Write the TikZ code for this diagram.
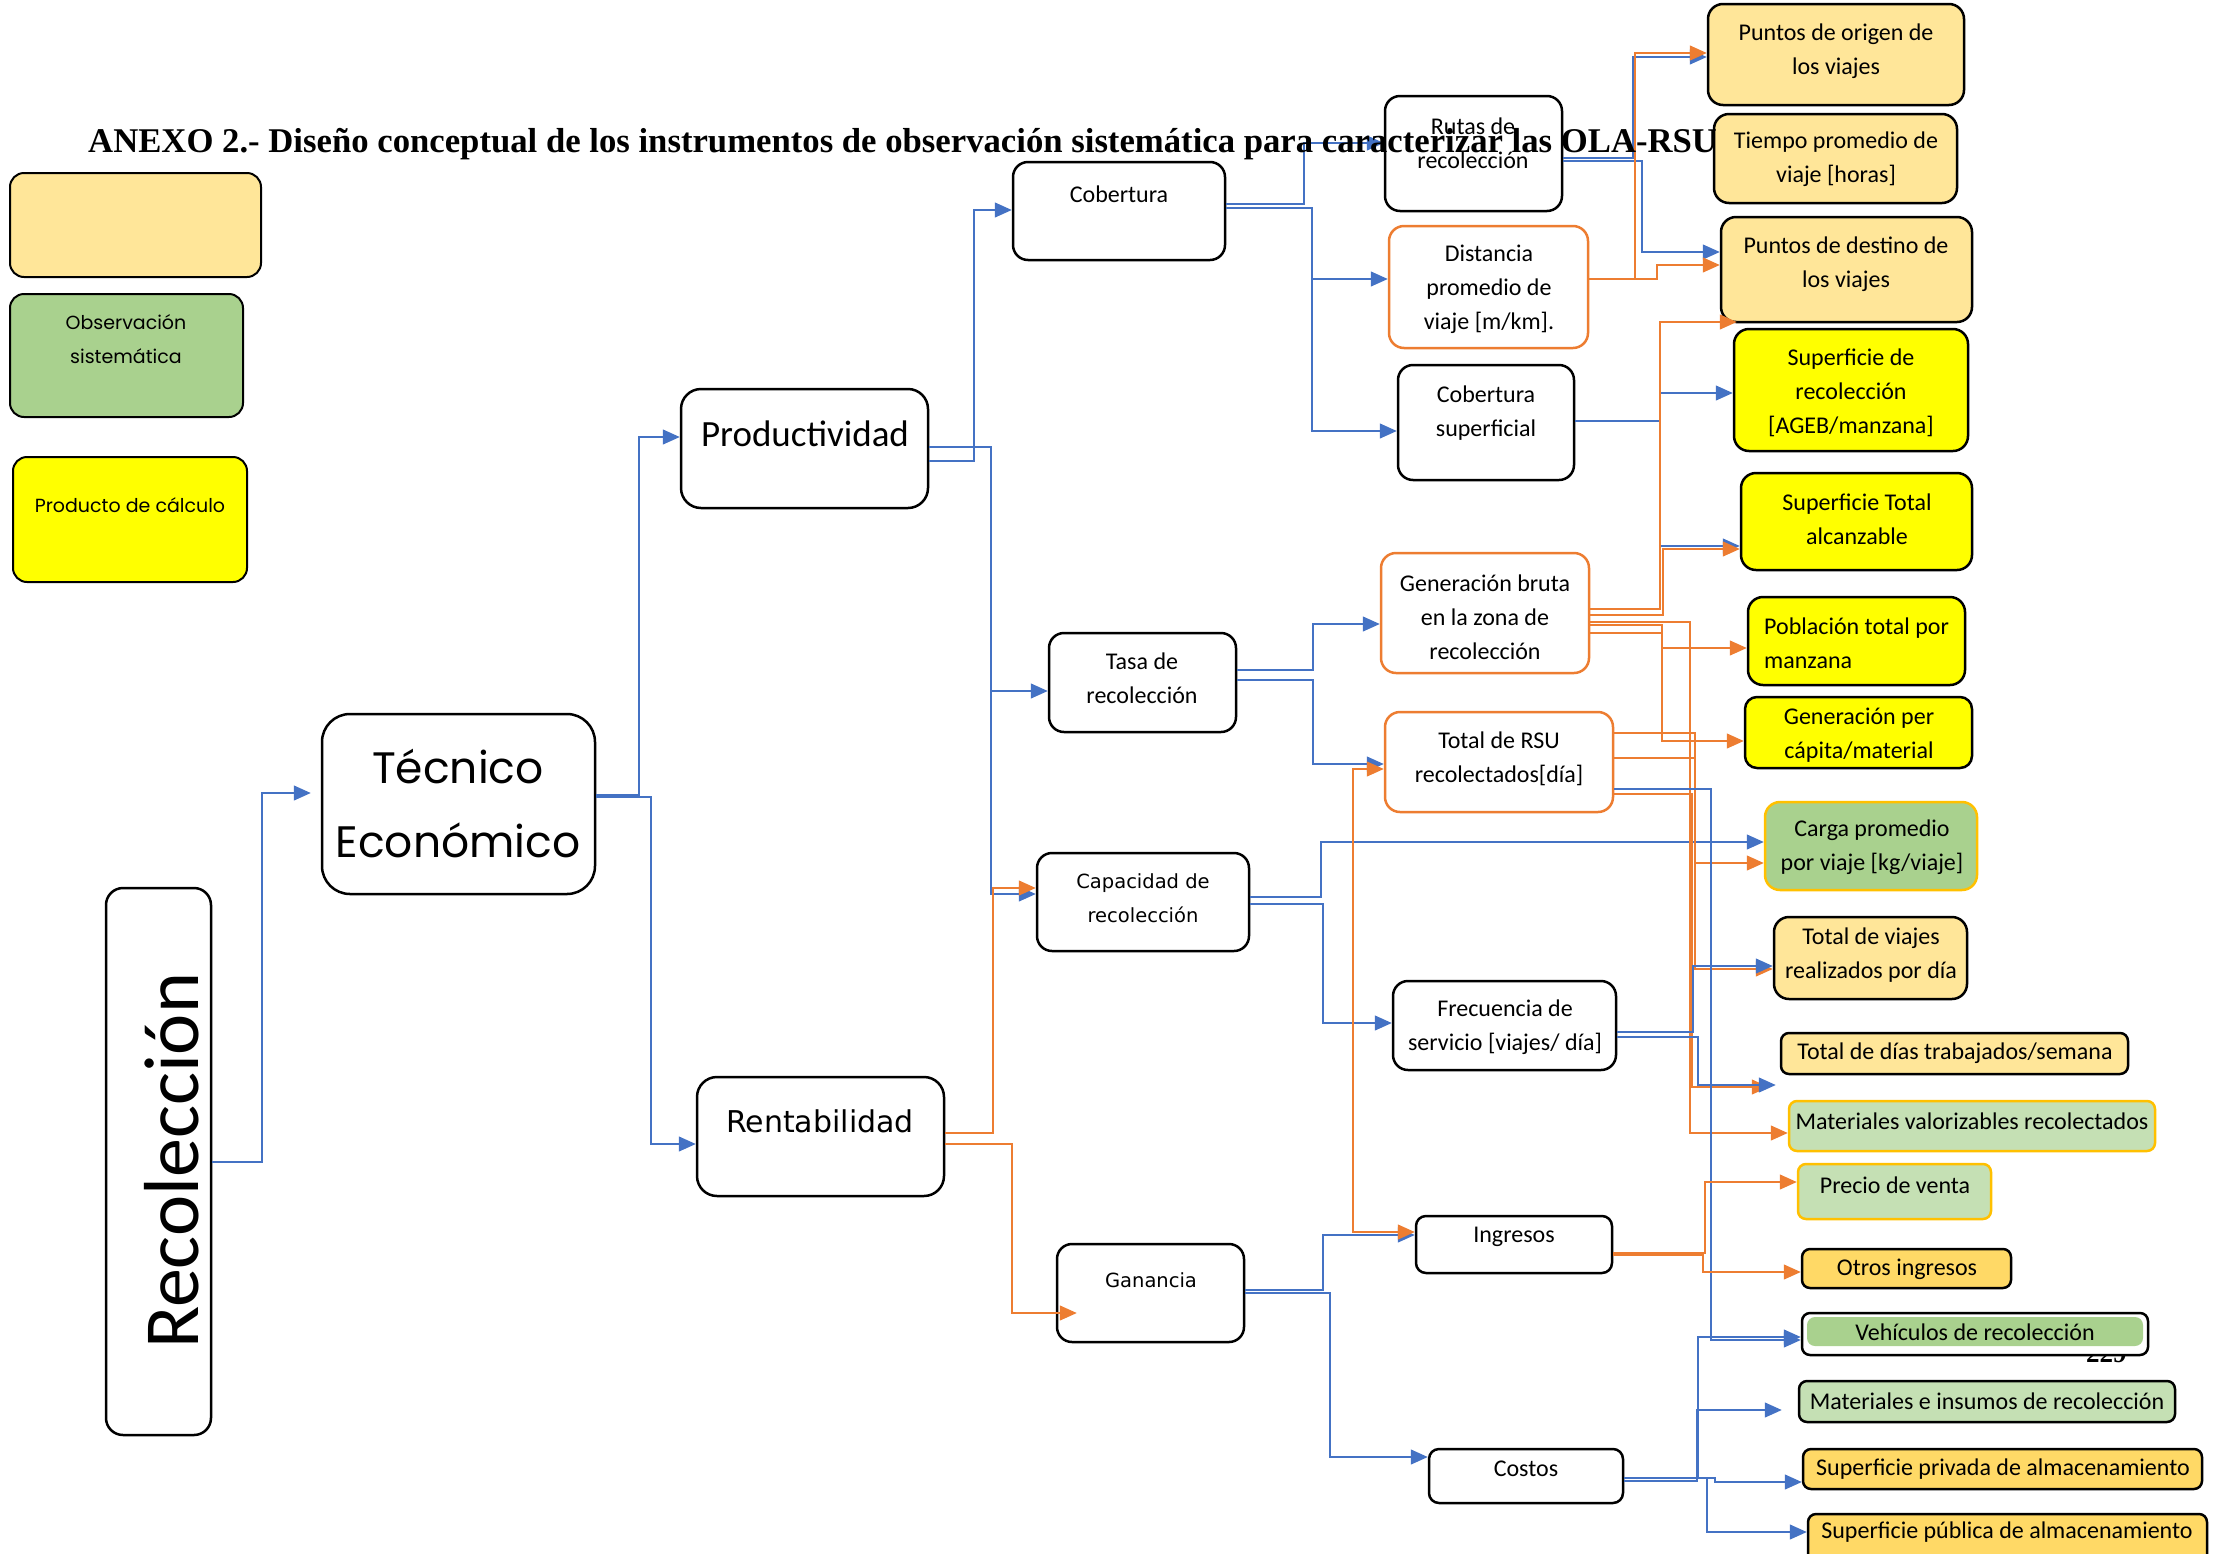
\documentclass[tikz,border=0pt]{standalone}
\usepackage{fontspec}
\setmainfont{Carlito}
\newfontfamily\poppins{Poppins}
\newfontfamily\dejavu{DejaVu Sans}
\newfontfamily\titulo{Liberation Serif}
\usetikzlibrary{arrows.meta}

\definecolor{crema}{HTML}{FFE699}
\definecolor{verdeobs}{HTML}{A9D18E}
\definecolor{verdeclaro}{HTML}{C5E0B4}
\definecolor{amarillo}{HTML}{FFFF00}
\definecolor{dorado}{HTML}{FFD966}
\definecolor{bordeoro}{HTML}{FFC000}
\definecolor{naranjaln}{HTML}{ED7D31}
\definecolor{azulln}{HTML}{4472C4}

\begin{document}
\begin{tikzpicture}[x=1pt, y=-1pt,
        >={Triangle[length=17pt, width=15pt]},
        caja/.style={draw=black, line width=2.5pt, rounded corners=15pt, fill=white, inner sep=0pt},
        chica/.style={caja, rounded corners=8pt},
        txt/.style={font=\fontsize{24}{34}\selectfont, align=center, inner sep=0pt},
        azul/.style={draw=azulln, line width=1.3pt, ->},
        naranja/.style={draw=naranjaln, line width=1.3pt, ->}]

        \useasboundingbox (0,0) rectangle (2225,1553);

        % boxes
        \node [caja, line width=2pt, rounded corners=14pt, fill=crema, minimum width=251pt, minimum height=104pt] (legA) at (135.5,225) {};
        \node [caja, line width=2pt, rounded corners=14pt, fill=verdeobs, minimum width=233pt, minimum height=123pt] (legB) at (126.5,355.5) {};
        \node [caja, line width=2pt, rounded corners=14pt, fill=amarillo, minimum width=234pt, minimum height=125pt] (legC) at (130,519.5) {};

        \node [caja, rounded corners=17pt, minimum width=105pt, minimum height=547pt] (reco) at (158.5,1161.5) {};
        \node [caja, rounded corners=28pt, minimum width=273pt, minimum height=180pt] (tec) at (458.5,804) {};
        \node [caja, rounded corners=20pt, minimum width=247pt, minimum height=119pt] (prod) at (804.5,448.5) {};
        \node [caja, rounded corners=20pt, minimum width=247pt, minimum height=119pt] (rent) at (820.5,1136.5) {};

        \node [caja, minimum width=212pt, minimum height=98pt] (cob) at (1119,211) {};
        \node [caja, minimum width=187pt, minimum height=99pt] (tasa) at (1142.5,682.5) {};
        \node [caja, minimum width=212pt, minimum height=98pt] (cap) at (1143,902) {};
        \node [caja, minimum width=187pt, minimum height=98pt] (gan) at (1150.5,1293) {};

        \node [caja, minimum width=177pt, minimum height=115pt] (rutas) at (1473.5,153.5) {};
        \node [caja, draw=naranjaln, minimum width=199pt, minimum height=122pt] (dist) at (1488.5,287) {};
        \node [caja, minimum width=176pt, minimum height=115pt] (cobsup) at (1486,422.5) {};
        \node [caja, draw=naranjaln, minimum width=208pt, minimum height=120pt] (genb) at (1485,613) {};
        \node [caja, draw=naranjaln, minimum width=228pt, minimum height=100pt] (trsu) at (1499,762) {};
        \node [caja, minimum width=223pt, minimum height=89pt] (frec) at (1504.5,1025.5) {};
        \node [chica, rounded corners=10pt, minimum width=196pt, minimum height=57pt] (ingr) at (1514,1244.5) {};
        \node [chica, rounded corners=10pt, minimum width=194pt, minimum height=54pt] (cost) at (1526,1476) {};

        \node [caja, fill=crema, minimum width=256pt, minimum height=101pt] (orig) at (1836,54.5) {};
        \node [caja, fill=crema, minimum width=243pt, minimum height=89pt] (tiempo) at (1835.5,158.5) {};
        \node [caja, fill=crema, minimum width=251pt, minimum height=105pt] (dest) at (1846.5,269.5) {};
        \node [caja, fill=amarillo, minimum width=234pt, minimum height=122pt] (suprec) at (1851,390) {};
        \node [caja, fill=amarillo, minimum width=231pt, minimum height=97pt] (suptot) at (1856.5,521.5) {};
        \node [caja, fill=amarillo, minimum width=217pt, minimum height=88pt] (pobl) at (1856.5,641) {};
        \node [caja, fill=amarillo, rounded corners=12pt, minimum width=227pt, minimum height=71pt] (genpc) at (1858.5,732.5) {};
        \node [caja, draw=bordeoro, fill=verdeobs, minimum width=212pt, minimum height=88pt] (carga) at (1871,846) {};
        \node [caja, fill=crema, minimum width=193pt, minimum height=82pt] (totv) at (1870.5,958) {};
        \node [chica, fill=crema, minimum width=347pt, minimum height=41pt] (totd) at (1954.5,1053.5) {};
        \node [chica, draw=bordeoro, fill=verdeclaro, minimum width=366pt, minimum height=50pt] (matval) at (1972,1126) {};
        \node [chica, draw=bordeoro, fill=verdeclaro, minimum width=193pt, minimum height=55pt] (precio) at (1894.5,1191.5) {};
        \node [chica, fill=dorado, minimum width=209pt, minimum height=39pt] (otros) at (1906.5,1268.5) {};
        \node [font=\titulo\bfseries\fontsize{27}{30}\selectfont, anchor=base west, inner sep=0pt] (pagina) at (2086,1362) {229};
        \node [chica, minimum width=346pt, minimum height=42pt,
            path picture={\fill [verdeobs] ([shift={(5pt,-4pt)}]path picture bounding box.north west) rectangle ([shift={(-5pt,9pt)}]path picture bounding box.south east);}] (vehic) at (1975,1334) {};
        \node [chica, fill=verdeclaro, minimum width=376pt, minimum height=41pt] (matins) at (1987,1401.5) {};
        \node [chica, fill=dorado, minimum width=399pt, minimum height=40pt] (suppriv) at (2002.5,1469) {};
        \node [chica, fill=dorado, minimum width=399pt, minimum height=48pt] (suppub) at (2007.5,1538) {};

        % connectors
        \draw [azul, shorten >=10pt] (reco.east |- 0,1162) -| (262,793) -- (tec.west |- 0,793);
        \draw [azul] (tec.east |- 0,795) -| (639,437) -- (prod.west |- 0,437);
        \draw [azul] (tec.east |- 0,797) -| (651,1144) -- (rent.west |- 0,1144);

        \draw [azul] (prod.east |- 0,461) -| (974,210) -- (cob.west |- 0,210);
        \draw [azul] (prod.east |- 0,447) -| (991,691) -- (tasa.west |- 0,691);
        \draw [azul] (prod.east |- 0,447) -| (991,894) -- (cap.west |- 0,894);
        \draw [naranja] (rent.east |- 0,1133) -| (993,888) -- (cap.west |- 0,888);
        \draw [naranja, shorten >=-21pt] (rent.east |- 0,1144) -| (1012,1313) -- (gan.west |- 0,1313);

        \draw [azul] (cob.east |- 0,204) -| (1304,143) -- (rutas.west |- 0,143);
        \draw [azul] (cob.east |- 0,208) -| (1312,279) -- (dist.west |- 0,279);
        \draw [azul] (cob.east |- 0,208) -| (1312,431) -- (cobsup.west |- 0,431);
        \draw [azul] (tasa.east |- 0,670) -| (1313,624) -- (genb.west |- 0,624);
        \draw [azul] (tasa.east |- 0,680) -| (1313,764) -- (trsu.west |- 0,764);
        \draw [azul] (cap.east |- 0,897) -| (1321,842) -- (carga.west |- 0,842);
        \draw [azul] (cap.east |- 0,904) -| (1323,1023) -- (frec.west |- 0,1023);
        \draw [azul] (gan.east |- 0,1290) -| (1323,1235) -- (ingr.west |- 0,1235);
        \draw [azul] (gan.east |- 0,1293) -| (1330,1457) -- (cost.west |- 0,1457);
        \draw [naranja, <->] (trsu.west |- 0,769) -| (1353,1232) -- (ingr.west |- 0,1232);

        \draw [azul] (rutas.east |- 0,158) -| (1633,57) -- (orig.west |- 0,57);
        \draw [azul] (rutas.east |- 0,161) -| (1642,252) -- (dest.west |- 0,252);
        \draw [naranja] (dist.east |- 0,279) -| (1635,53) -- (orig.west |- 0,53);
        \draw [naranja] (dist.east |- 0,279) -| (1657,265) -- (dest.west |- 0,265);
        \draw [azul] (cobsup.east |- 0,421) -| (1660,393) -- (suprec.west |- 0,393);
        \draw [azul] (cobsup.east |- 0,421) -| (1660,546) -- (suptot.west |- 0,546);

        \draw [naranja, shorten >=-4pt] (genb.east |- 0,609) -| (1660,322) -- (suprec.west |- 0,322);
        \draw [naranja] (genb.east |- 0,615) -| (1663,549) -- (suptot.west |- 0,549);
        \draw [naranja] (genb.east |- 0,625) -| (1662,648) -- (pobl.west |- 0,648);
        \draw [naranja] (genb.east |- 0,633) -| (1662,741) -- (genpc.west |- 0,741);
        \draw [naranja] (genb.east |- 0,622) -| (1690,1133) -- (matval.west |- 0,1133);

        \draw [naranja] (trsu.east |- 0,733) -| (1695,863) -- (carga.west |- 0,863);
        \draw [naranja] (trsu.east |- 0,758) -| (1695,969) -- (totv.west |- 0,969);
        \draw [naranja, shorten >=11pt] (trsu.east |- 0,794) -| (1692,1087) -- (totd.west |- 0,1087);
        \draw [azul] (trsu.east |- 0,789) -| (1711,1340) -- (vehic.west |- 0,1340);

        \draw [azul] (frec.east |- 0,1032) -| (1693,966) -- (totv.west |- 0,966);
        \draw [azul, shorten >=4pt] (frec.east |- 0,1037) -| (1698,1085) -- (totd.west |- 0,1085);
        \draw [naranja] (ingr.east |- 0,1253) -| (1705,1182) -- (precio.west |- 0,1182);
        \draw [naranja] (ingr.east |- 0,1255) -| (1703,1272) -- (otros.west |- 0,1272);

        \draw [azul] (cost.east |- 0,1478) -| (1698,1337) -- (vehic.west |- 0,1337);
        \draw [azul, shorten >=16pt] (cost.east |- 0,1481) -| (1697,1410) -- (matins.west |- 0,1410);
        \draw [azul] (cost.east |- 0,1478) -- (1715,1478) |- (suppriv.west |- 0,1482);
        \draw [azul] (cost.east |- 0,1478) -| (1707,1532) -- (suppub.west |- 0,1532);

        % texts
        \node [txt, font=\poppins\fontsize{19}{34}\selectfont] (legBt) at (126,339) {Observación\\sistemática};
        \node [txt, font=\poppins\fontsize{19}{34}\selectfont] (legCt) at (130,505) {Producto de cálculo};
        \node [txt, font=\fontsize{78}{80}\selectfont, rotate=90] (recot) at (172,1161) {Recolección};
        \node [txt, font=\poppins\fontsize{44}{74}\selectfont] (tect) at (458,803) {Técnico\\Económico};
        \node [txt, font=\fontsize{37}{40}\selectfont] (prodt) at (805,434) {Productividad};
        \node [txt, font=\dejavu\fontsize{30}{34}\selectfont] (rentt) at (820,1121) {Rentabilidad};

        \node [txt] (cobt) at (1119,194) {Cobertura};
        \node [txt] (tasat) at (1142,678) {Tasa de\\recolección};
        \node [txt, font=\dejavu\fontsize{19.5}{34}\selectfont] (capt) at (1143,898) {Capacidad de\\recolección};
        \node [txt, font=\dejavu\fontsize{19.5}{34}\selectfont] (gant) at (1151,1280) {Ganancia};
        \node [txt] (rutast) at (1473,143) {Rutas de\\recolección};
        \node [txt] (distt) at (1489,289) {Distancia\\promedio de\\viaje [m/km].};
        \node [txt] (cobsupt) at (1486,413) {Cobertura\\superficial};
        \node [txt] (genbt) at (1485,617) {Generación bruta\\en la zona de\\recolección};
        \node [txt] (trsut) at (1499,759) {Total de RSU\\recolectados[día]};
        \node [txt] (frect) at (1505,1027) {Frecuencia de\\servicio [viajes/ día]};
        \node [txt] (ingrt) at (1514,1237) {Ingresos};
        \node [txt] (costt) at (1526,1469) {Costos};

        \node [txt] (origt) at (1836,51) {Puntos de origen de\\los viajes};
        \node [txt] (tiempot) at (1836,159) {Tiempo promedio de\\viaje [horas]};
        \node [txt] (destt) at (1846,264) {Puntos de destino de\\los viajes};
        \node [txt] (suprect) at (1851,393) {Superficie de\\recolección\\{[AGEB/manzana]}};
        \node [txt] (suptott) at (1857,519) {Superficie Total\\alcanzable};
        \node [txt, align=left, anchor=west] (poblt) at (1764,643) {Población total por\\manzana};
        \node [txt] (genpct) at (1859,735) {Generación per\\cápita/material};
        \node [txt] (cargat) at (1872,847) {Carga promedio\\por viaje [kg/viaje]};
        \node [txt] (totvt) at (1871,955) {Total de viajes\\realizados por día};
        \node [txt] (totdt) at (1955,1053) {Total de días trabajados/semana};
        \node [txt] (matvalt) at (1972,1121) {Materiales valorizables recolectados};
        \node [txt] (preciot) at (1895,1185) {Precio de venta};
        \node [txt] (otrost) at (1907,1269) {Otros ingresos};
        \node [txt] (vehict) at (1975,1332) {Vehículos de recolección};
        \node [txt] (matinst) at (1987,1401) {Materiales e insumos de recolección};
        \node [txt] (supprivt) at (2003,1469) {Superficie privada de almacenamiento};
        \node [txt] (suppubt) at (2007,1532) {Superficie pública de almacenamiento};

        \node [font=\titulo\bfseries\fontsize{34.7}{40}\selectfont, anchor=base west, inner sep=0pt] (titulo) at (88,152)
            {ANEXO 2.- Diseño conceptual de los instrumentos de observación sistemática para caracterizar las OLA-RSU};
      \end{tikzpicture}
\end{document}
